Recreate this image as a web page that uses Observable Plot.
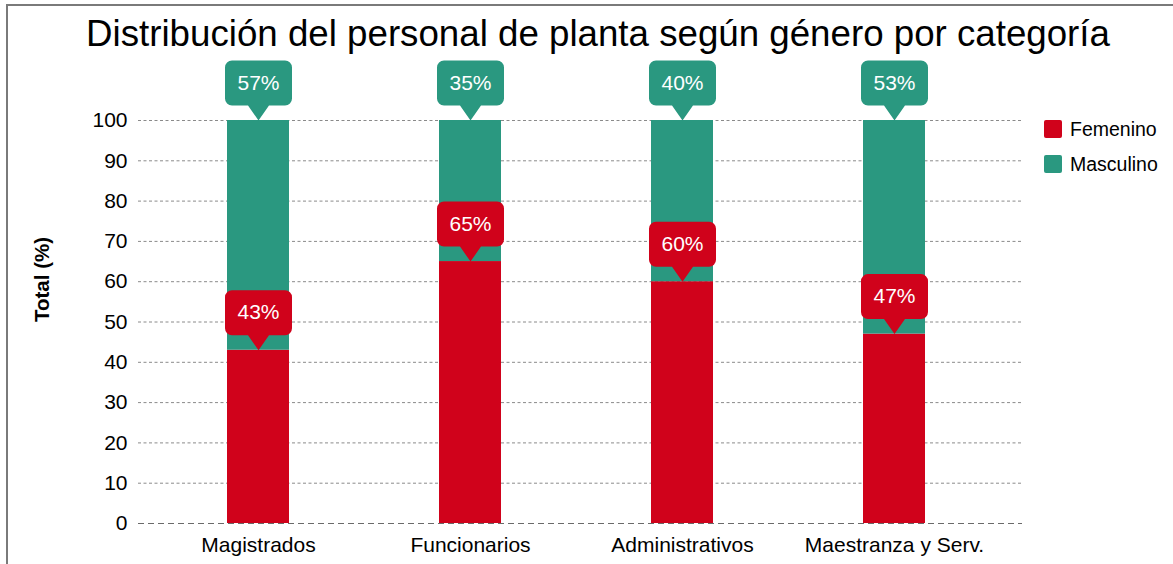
<!DOCTYPE html>
<html>
<head>
<meta charset="utf-8">
<script src="https://cdn.jsdelivr.net/npm/d3@7"></script>
<script src="https://cdn.jsdelivr.net/npm/@observablehq/plot@0.6"></script>
<style>
  html, body { margin: 0; padding: 0; background: #fff; }
  #wrap { position: relative; width: 1173px; height: 564px; overflow: hidden; font-family: "Liberation Sans", Arial, sans-serif; }
  #frame { position: absolute; left: 6px; top: 4px; width: 1200px; height: 600px; border-left: 2px solid #7a7a7a; border-top: 2px solid #7a7a7a; }
  #title { position: absolute; top: 16px; left: 598px; transform: translateX(-50%); white-space: nowrap; font-size: 36.7px; line-height: 36.7px; color: #000; }
  #legend { position: absolute; left: 1044px; top: 120px; font-size: 19.5px; color: #000; }
  .item { display: flex; align-items: center; height: 18px; margin-bottom: 17px; }
  .sw { width: 18px; height: 18px; border-radius: 2px; margin-right: 8px; flex: none; }
  #chart { position: absolute; left: 0; top: 0; }
</style>
</head>
<body>
<div id="wrap">
  <div id="frame"></div>
  <div id="chart"></div>
  <div id="title">Distribución del personal de planta según género por categoría</div>
  <div id="legend"></div>
</div>
<script>
const categories = ["Magistrados", "Funcionarios", "Administrativos", "Maestranza y Serv."];
const genders = ["Femenino", "Masculino"];
const femenino = [43, 65, 60, 47];
const masculino = [57, 35, 40, 53];
const colors = ["#D0021B", "#2A9880"];
const yTicks = [0, 10, 20, 30, 40, 50, 60, 70, 80, 90, 100];

const data = [
  ...categories.map((c, i) => ({cat: c, gender: "Femenino", value: femenino[i]})),
  ...categories.map((c, i) => ({cat: c, gender: "Masculino", value: masculino[i]}))
];
const labels = [
  ...categories.map((c, i) => ({cat: c, gender: "Femenino", top: femenino[i], text: femenino[i] + "%"})),
  ...categories.map((c, i) => ({cat: c, gender: "Masculino", top: femenino[i] + masculino[i], text: masculino[i] + "%"}))
];

// callout shape: tip at origin, rounded box above
const callout = {
  draw(ctx) {
    const w = 33.5, b = -15, t = -60, r = 7, pw = 10.5;
    ctx.moveTo(0, 0);
    ctx.lineTo(-pw, b);
    ctx.lineTo(-w + r, b);
    ctx.arcTo(-w, b, -w, b - r, r);
    ctx.lineTo(-w, t + r);
    ctx.arcTo(-w, t, -w + r, t, r);
    ctx.lineTo(w - r, t);
    ctx.arcTo(w, t, w, t + r, r);
    ctx.lineTo(w, b - r);
    ctx.arcTo(w, b, w - r, b, r);
    ctx.lineTo(pw, b);
    ctx.closePath();
  }
};

const chart = Plot.plot({
  width: 1173,
  height: 564,
  marginLeft: 138,
  marginRight: 151,
  marginTop: 120,
  marginBottom: 41,
  style: {fontFamily: "'Liberation Sans', Arial, sans-serif", background: "transparent"},
  x: {domain: categories, range: [226, 925], paddingInner: 0.708, paddingOuter: 0, label: null},
  y: {domain: [0, 100], label: null},
  color: {domain: genders, range: colors},
  marks: [
    Plot.ruleY(yTicks.filter(v => v > 0), {stroke: "#8a8a8a", strokeDasharray: "3,2.5", strokeWidth: 1}),
    Plot.barY(data, {x: "cat", y: "value", fill: "gender"}),
    Plot.ruleY([0], {stroke: "#6a6a6a", strokeDasharray: "6,4", strokeWidth: 1.2}),
    Plot.axisY({ticks: yTicks, tickSize: 0, tickPadding: 11, fontSize: 21, label: null, tickFormat: d => d}),
    Plot.axisX({tickSize: 0, tickPadding: 14, fontSize: 21, label: null}),
    Plot.text(["Total (%)"], {frameAnchor: "left", text: d => d, rotate: -90, dx: -96, fontSize: 20.5, fontWeight: "bold", fill: "#000"}),
    Plot.dot(labels, {x: "cat", y: "top", symbol: callout, fill: "gender", stroke: "none", r: 10}),
    Plot.text(labels, {x: "cat", y: "top", text: "text", dy: -37.5, fill: "white", fontSize: 21})
  ]
});
chart.style.color = "#000";
document.getElementById("chart").appendChild(chart);

const legend = document.getElementById("legend");
genders.forEach((g, i) => {
  const item = document.createElement("div");
  item.className = "item";
  const sw = document.createElement("div");
  sw.className = "sw";
  sw.style.background = colors[i];
  const t = document.createElement("span");
  t.textContent = g;
  item.appendChild(sw);
  item.appendChild(t);
  legend.appendChild(item);
});
</script>
</body>
</html>
